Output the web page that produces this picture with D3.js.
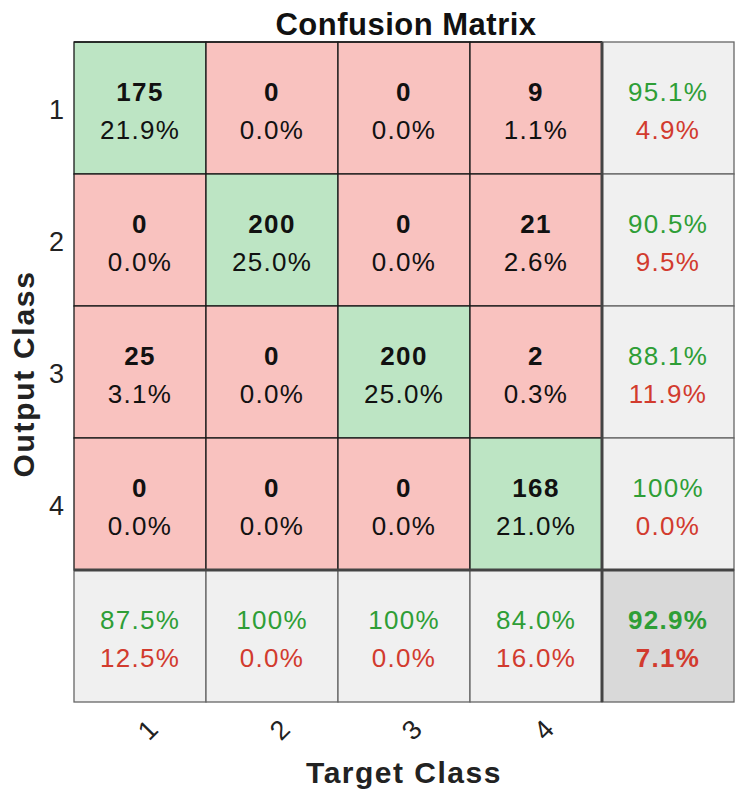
<!DOCTYPE html>
<html>
<head>
<meta charset="utf-8">
<script src="https://cdn.jsdelivr.net/npm/d3@7"></script>
<style>
  body { margin: 0; background: #fff; }
  text { font-family: "Liberation Sans", Arial, sans-serif; }
</style>
</head>
<body>
<div id="container"></div>
<script>
let w = 743;
let h = 802;

// classes, rows = output class, columns = target class
let classes = ["1", "2", "3", "4"];
let counts = [
  [175, 0, 0, 9],
  [0, 200, 0, 21],
  [25, 0, 200, 2],
  [0, 0, 0, 168]
];
let cellPct = [
  ["21.9%", "0.0%", "0.0%", "1.1%"],
  ["0.0%", "25.0%", "0.0%", "2.6%"],
  ["3.1%", "0.0%", "25.0%", "0.3%"],
  ["0.0%", "0.0%", "0.0%", "21.0%"]
];
// right column (per output class)
let rowGood = ["95.1%", "90.5%", "88.1%", "100%"];
let rowBad = ["4.9%", "9.5%", "11.9%", "0.0%"];
// bottom row (per target class)
let colGood = ["87.5%", "100%", "100%", "84.0%"];
let colBad = ["12.5%", "0.0%", "0.0%", "16.0%"];
let totalGood = "92.9%";
let totalBad = "7.1%";

let green = "#bde5c4";
let red = "#f9c2bf";
let grey = "#f0f0f0";
let darkGrey = "#d9d9d9";
let greenText = "#2e9e36";
let redText = "#d23b2e";

let viz = d3.select("#container")
  .append("svg")
    .attr("width", w)
    .attr("height", h);

let idx = d3.range(classes.length + 1);
let x = d3.scaleBand().domain(idx).range([74, 734]);
let y = d3.scaleBand().domain(idx).range([42, 702]);
let bw = x.bandwidth();
let bh = y.bandwidth();

// build cell list from the arrays
let cells = [];
classes.forEach(function(r, i){
  classes.forEach(function(c, j){
    cells.push({row: i, col: j, fill: i == j ? green : red,
      top: String(counts[i][j]), bottom: cellPct[i][j], kind: "count"});
  });
  cells.push({row: i, col: classes.length, fill: grey,
    top: rowGood[i], bottom: rowBad[i], kind: "summary"});
});
classes.forEach(function(c, j){
  cells.push({row: classes.length, col: j, fill: grey,
    top: colGood[j], bottom: colBad[j], kind: "summary"});
});
cells.push({row: classes.length, col: classes.length, fill: darkGrey,
  top: totalGood, bottom: totalBad, kind: "total"});

let groups = viz.selectAll(".cell").data(cells).enter()
  .append("g")
    .attr("class", "cell")
    .attr("transform", function(d){ return "translate(" + x(d.col) + "," + y(d.row) + ")"; });

groups.append("rect")
  .attr("width", bw)
  .attr("height", bh)
  .attr("fill", function(d){ return d.fill; })
  .attr("stroke", function(d){ return d.kind == "count" ? "#1a1a1a" : "#666"; })
  .attr("stroke-width", 1.3);

groups.append("text")
  .text(function(d){ return d.top; })
  .attr("x", bw / 2)
  .attr("y", 59)
  .attr("text-anchor", "middle")
  .attr("font-size", 26)
  .attr("letter-spacing", 1.3)
  .attr("font-weight", function(d){ return d.kind == "summary" ? "normal" : "bold"; })
  .attr("fill", function(d){ return d.kind == "count" ? "#111" : greenText; });

groups.append("text")
  .text(function(d){ return d.bottom; })
  .attr("x", bw / 2)
  .attr("y", 97)
  .attr("text-anchor", "middle")
  .attr("font-size", 26)
  .attr("letter-spacing", 1.3)
  .attr("font-weight", function(d){ return d.kind == "total" ? "bold" : "normal"; })
  .attr("fill", function(d){ return d.kind == "count" ? "#111" : redText; });

// top edge of the grid
viz.append("line")
  .attr("x1", x(0)).attr("x2", x(classes.length))
  .attr("y1", y(0)).attr("y2", y(0))
  .attr("stroke", "#1a1a1a").attr("stroke-width", 1.5);

// thick separators for the summary row / column
viz.append("line")
  .attr("x1", x(classes.length)).attr("x2", x(classes.length))
  .attr("y1", y(0)).attr("y2", y(classes.length) + bh)
  .attr("stroke", "#444").attr("stroke-width", 3);
viz.append("line")
  .attr("x1", x(0)).attr("x2", x(classes.length) + bw)
  .attr("y1", y(classes.length)).attr("y2", y(classes.length))
  .attr("stroke", "#444").attr("stroke-width", 3);

// y tick labels
viz.selectAll(".ytick").data(classes).enter()
  .append("text")
    .attr("class", "ytick")
    .text(function(d){ return d; })
    .attr("x", 64)
    .attr("y", function(d, i){ return y(i) + bh / 2 + 2; })
    .attr("text-anchor", "end")
    .attr("dominant-baseline", "central")
    .attr("font-size", 27)
    .attr("fill", "#222");

// x tick labels, rotated
viz.selectAll(".xtick").data(classes).enter()
  .append("text")
    .attr("class", "xtick")
    .text(function(d){ return d; })
    .attr("transform", function(d, i){ return "translate(" + (x(i) + bw / 2 + 8) + ",730) rotate(-45)"; })
    .attr("text-anchor", "middle")
    .attr("dominant-baseline", "central")
    .attr("font-size", 27)
    .attr("fill", "#222");

viz.append("text")
  .text("Confusion Matrix")
  .attr("x", 406)
  .attr("y", 35)
  .attr("text-anchor", "middle")
  .attr("font-size", 31)
  .attr("font-weight", "bold")
  .attr("letter-spacing", 0.5)
  .attr("fill", "#111");

viz.append("text")
  .text("Target Class")
  .attr("x", 404)
  .attr("y", 783)
  .attr("text-anchor", "middle")
  .attr("font-size", 30)
  .attr("font-weight", "bold")
  .attr("letter-spacing", 1.5)
  .attr("fill", "#222");

viz.append("text")
  .text("Output Class")
  .attr("transform", "translate(34,374) rotate(-90)")
  .attr("text-anchor", "middle")
  .attr("font-size", 30)
  .attr("font-weight", "bold")
  .attr("letter-spacing", 1.7)
  .attr("fill", "#222");
</script>
</body>
</html>
